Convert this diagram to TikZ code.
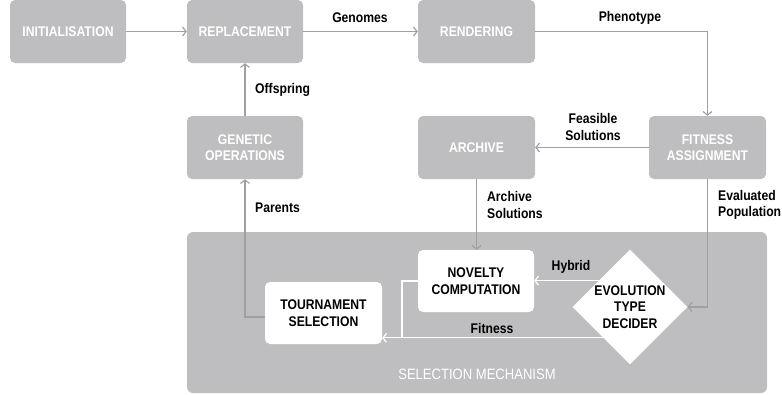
\documentclass[tikz,border=0pt]{standalone}
\usepackage{fontspec}
\setmainfont[FakeStretch=0.87]{Liberation Sans}
\usetikzlibrary{arrows.meta,shapes.geometric}
\definecolor{boxgray}{RGB}{190,190,192}
\definecolor{linegray}{RGB}{160,160,160}
\tikzset{
  gbox/.style={fill=boxgray, rounded corners=5pt, minimum width=116pt, minimum height=63pt, inner sep=0pt, align=center, text=white, font=\bfseries\fontsize{14}{16.5}\selectfont},
  wbox/.style={fill=white, rounded corners=5pt, minimum width=117pt, minimum height=62pt, inner sep=0pt, align=center, text=black, font=\bfseries\fontsize{14}{16.5}\selectfont},
  arr/.style={draw=linegray, line width=1.2pt, -{Straight Barb[length=3.5pt,width=9pt]}},
  plain/.style={draw=linegray, line width=1.2pt},
  warr/.style={draw=white, line width=1.2pt, -{Straight Barb[length=3.5pt,width=9pt]}},
  wline/.style={draw=white, line width=1.2pt},
  lbl/.style={font=\bfseries\fontsize{14}{16.5}\selectfont, align=left, inner sep=0pt, text=black},
}
\begin{document}
\begin{tikzpicture}[x=1pt,y=-1pt]
\useasboundingbox (0,0) rectangle (782,394);
% selection mechanism background
\node[fill=boxgray, rounded corners=6pt, minimum width=580pt, minimum height=161pt, inner sep=0pt] (sel) at (477,312.5) {};
\node[text=white, font=\fontsize{15}{17}\selectfont, inner sep=0pt] (seltxt) at (477,374) {SELECTION MECHANISM};
% boxes
\node[gbox] (init) at (68,31.5) {INITIALISATION};
\node[gbox] (repl) at (245,31.5) {REPLACEMENT};
\node[gbox, minimum width=117pt] (rend) at (476.5,31.5) {RENDERING};
\node[gbox] (genop) at (245,147.5) {GENETIC\\OPERATIONS};
\node[gbox, minimum width=117pt] (arch) at (476.5,147.5) {ARCHIVE};
\node[gbox, minimum width=117pt] (fit) at (707.5,147.5) {FITNESS\\ASSIGNMENT};
\node[wbox, minimum width=116pt] (nov) at (476,281) {NOVELTY\\COMPUTATION};
\node[wbox] (tour) at (323.5,313) {TOURNAMENT\\SELECTION};
\node[diamond, fill=white, minimum width=115pt, minimum height=115pt, inner sep=0pt] (diam) at (630,307) {};
\node[align=center, font=\bfseries\fontsize{14}{16.5}\selectfont, inner sep=0pt] (diamtxt) at (630,307) {EVOLUTION\\TYPE\\DECIDER};
% connectors
\draw[arr] (init) -- (repl);
\draw[arr] (repl) -- (rend);
\draw[arr] (rend.east) -| (fit.north);
\draw[arr] (fit) -- (arch);
\draw[arr] (genop) -- (repl);
\draw[arr] ([yshift=-4pt]tour.west) -| (genop.south);
\draw[arr] (arch.south) -- (arch.south |- nov.north);
\draw[arr] (fit.south) |- (diam.east);
\draw[warr] (diam.140) -- (diam.140 -| nov.east);
\draw[warr] (diam.229.5) -- (diam.229.5 -| tour.east);
\coordinate (jn) at (402,338);
\draw[wline] (nov.west) -| (jn);
% labels
\node[lbl] (lgen) at (360,18) {Genomes};
\node[lbl] (lphen) at (630,18) {Phenotype};
\node[lbl, align=center] (lfeas) at (593,127) {Feasible\\Solutions};
\node[lbl, anchor=west] (loff) at (255,90) {Offspring};
\node[lbl, anchor=west] (lpar) at (255,208) {Parents};
\node[lbl, anchor=west] (larc) at (487,205) {Archive\\Solutions};
\node[lbl, anchor=west] (leval) at (718,205) {Evaluated\\Population};
\node[lbl] (lhyb) at (571,267) {Hybrid};
\node[lbl] (lfitn) at (492,328) {Fitness};
\end{tikzpicture}
\end{document}
